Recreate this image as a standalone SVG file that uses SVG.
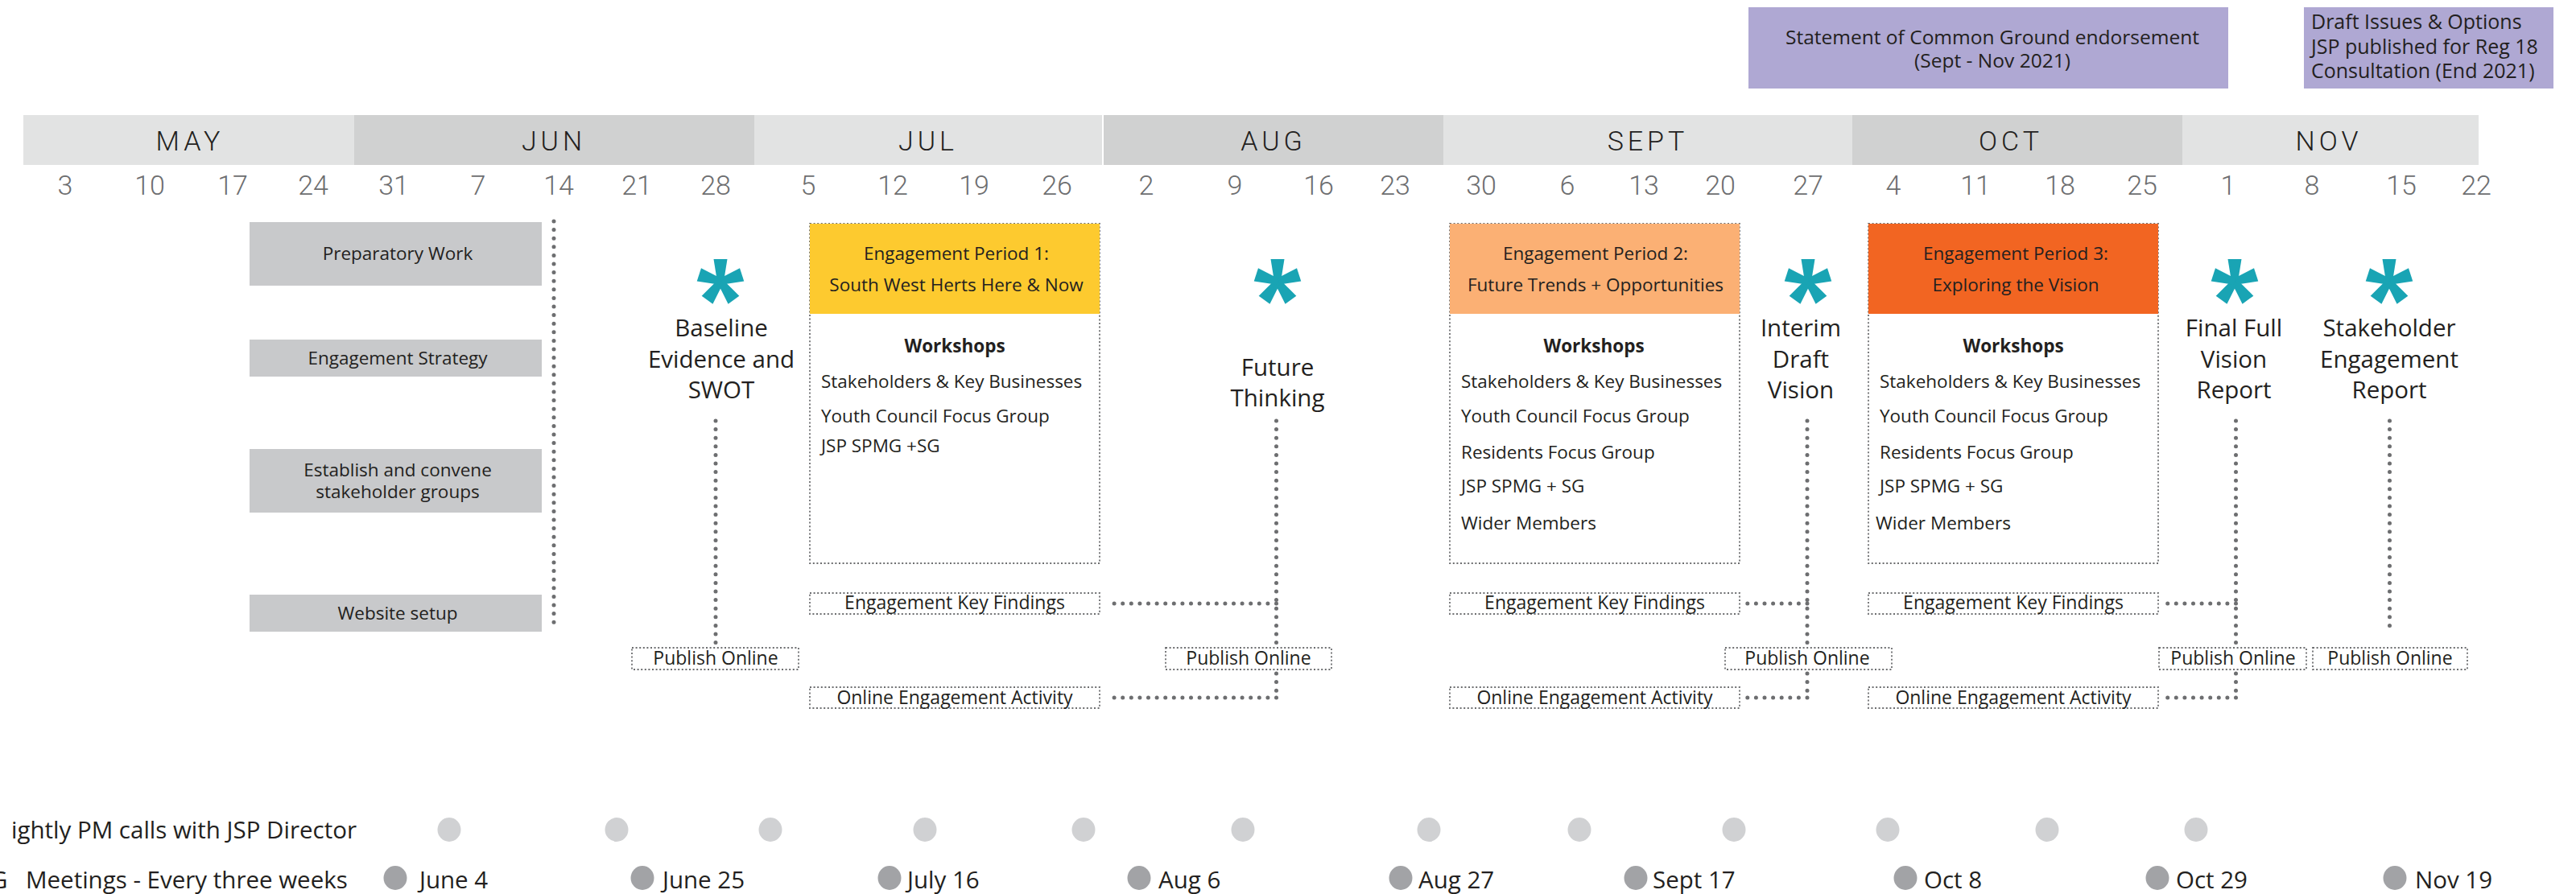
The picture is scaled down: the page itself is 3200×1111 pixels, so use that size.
<svg xmlns="http://www.w3.org/2000/svg" xmlns:xlink="http://www.w3.org/1999/xlink" width="3200" height="1111" viewBox="0 0 3200 1111">
  <style>
    .month { font-family: Roboto, "Open Sans", sans-serif; font-weight: 300; font-size: 34px; fill: #231f20; letter-spacing: 5px; text-anchor: middle; }
    .day { font-family: Roboto, "Open Sans", sans-serif; font-weight: 300; font-size: 34px; fill: #6d6e70; text-anchor: middle; }
    .txt { font-family: "Open Sans", "Noto Sans", sans-serif; font-size: 22.5px; fill: #231f20; }
    .sm { font-size: 23px; }
    .mid { text-anchor: middle; }
    .bold { font-weight: 700; }
    .big { font-family: "Open Sans", "Noto Sans", sans-serif; font-size: 29.5px; fill: #231f20; text-anchor: middle; }
    .leg { font-family: "Open Sans", "Noto Sans", sans-serif; font-size: 29.5px; fill: #231f20; }
    .note { font-size: 24.5px; }
    .grey { fill: #c8c9cb; }
    .dotbox { fill: none; stroke: #6d6e70; stroke-width: 1.8; stroke-dasharray: 2 2.6; }
    .conn { fill: none; stroke: #6d6e70; stroke-width: 5; stroke-linecap: round; stroke-dasharray: 0 10.6; }
    .ast { fill: #19a4b4; }
    .c1 { fill: #d0d1d3; }
    .c2 { fill: #a2a3a6; }
  </style>
  <defs>
    <g id="asterisk">
      <circle r="8"/>
      <polygon points="-4,0 -8.5,-28 8.5,-28 4,0"/>
      <polygon points="-4,0 -8.5,-28 8.5,-28 4,0" transform="rotate(72)"/>
      <polygon points="-4,0 -8.5,-28 8.5,-28 4,0" transform="rotate(144)"/>
      <polygon points="-4,0 -8.5,-28 8.5,-28 4,0" transform="rotate(216)"/>
      <polygon points="-4,0 -8.5,-28 8.5,-28 4,0" transform="rotate(288)"/>
    </g>
  </defs>
  <rect width="3200" height="1111" fill="#ffffff"/>

  <!-- top milestones -->
  <g id="scg-endorsement">
    <rect x="2172" y="9" width="596" height="101" fill="#afa8d3"/>
    <text class="txt mid note" x="2475" y="55">Statement of Common Ground endorsement</text>
    <text class="txt mid note" x="2475" y="84">(Sept - Nov 2021)</text>
  </g>
  <g id="draft-issues">
    <rect x="2862" y="9" width="310" height="101" fill="#afa8d3"/>
    <text class="txt" x="2871" y="36" style="font-size:25px">Draft Issues &amp; Options</text>
    <text class="txt" x="2871" y="67" style="font-size:25px">JSP published for Reg 18</text>
    <text class="txt" x="2871" y="97" style="font-size:25px">Consultation (End 2021)</text>
  </g>

  <!-- month bar -->
  <g id="months">
    <rect x="29" y="143" width="411" height="62" fill="#e2e3e3"/>
    <rect x="440" y="143" width="497" height="62" fill="#d0d1d1"/>
    <rect x="937" y="143" width="432" height="62" fill="#e2e3e3"/>
    <rect x="1371" y="143" width="422" height="62" fill="#d0d1d1"/>
    <rect x="1793" y="143" width="508" height="62" fill="#e2e3e3"/>
    <rect x="2301" y="143" width="410" height="62" fill="#d0d1d1"/>
    <rect x="2711" y="143" width="368" height="62" fill="#e2e3e3"/>
    <text class="month" x="236" y="187">MAY</text>
    <text class="month" x="688" y="187">JUN</text>
    <text class="month" x="1153" y="187">JUL</text>
    <text class="month" x="1582" y="187">AUG</text>
    <text class="month" x="2047" y="187">SEPT</text>
    <text class="month" x="2498" y="187">OCT</text>
    <text class="month" x="2893" y="187">NOV</text>
  </g>

  <!-- week commencing dates -->
  <g id="weeks">
    <text class="day" x="81" y="242">3</text>
    <text class="day" x="186" y="242">10</text>
    <text class="day" x="289" y="242">17</text>
    <text class="day" x="389" y="242">24</text>
    <text class="day" x="489" y="242">31</text>
    <text class="day" x="594" y="242">7</text>
    <text class="day" x="694" y="242">14</text>
    <text class="day" x="791" y="242">21</text>
    <text class="day" x="889" y="242">28</text>
    <text class="day" x="1004" y="242">5</text>
    <text class="day" x="1109" y="242">12</text>
    <text class="day" x="1210" y="242">19</text>
    <text class="day" x="1313" y="242">26</text>
    <text class="day" x="1424" y="242">2</text>
    <text class="day" x="1534" y="242">9</text>
    <text class="day" x="1638" y="242">16</text>
    <text class="day" x="1733" y="242">23</text>
    <text class="day" x="1840" y="242">30</text>
    <text class="day" x="1947" y="242">6</text>
    <text class="day" x="2042" y="242">13</text>
    <text class="day" x="2137" y="242">20</text>
    <text class="day" x="2246" y="242">27</text>
    <text class="day" x="2352" y="242">4</text>
    <text class="day" x="2454" y="242">11</text>
    <text class="day" x="2559" y="242">18</text>
    <text class="day" x="2661" y="242">25</text>
    <text class="day" x="2768" y="242">1</text>
    <text class="day" x="2872" y="242">8</text>
    <text class="day" x="2983" y="242">15</text>
    <text class="day" x="3076" y="242">22</text>
  </g>

  <!-- preparatory tasks -->
  <g id="preparatory-work">
    <rect class="grey" x="310" y="276" width="363" height="79"/>
    <text class="txt mid" x="494" y="323">Preparatory Work</text>
  </g>
  <g id="engagement-strategy">
    <rect class="grey" x="310" y="422" width="363" height="46"/>
    <text class="txt mid" x="494" y="453">Engagement Strategy</text>
  </g>
  <g id="stakeholder-groups">
    <rect class="grey" x="310" y="558" width="363" height="79"/>
    <text class="txt mid" x="494" y="592">Establish and convene</text>
    <text class="txt mid" x="494" y="619">stakeholder groups</text>
  </g>
  <g id="website-setup">
    <rect class="grey" x="310" y="739" width="363" height="46"/>
    <text class="txt mid" x="494" y="770">Website setup</text>
  </g>

  <!-- milestones -->
  <g id="baseline-swot">
    <use xlink:href="#asterisk" class="ast" x="895" y="350"/>
    <text class="big" x="896" y="418">Baseline</text>
    <text class="big" x="896" y="457">Evidence and</text>
    <text class="big" x="896" y="495">SWOT</text>
  </g>
  <g id="future-thinking">
    <use xlink:href="#asterisk" class="ast" x="1587" y="350"/>
    <text class="big" x="1587" y="467">Future</text>
    <text class="big" x="1587" y="505">Thinking</text>
  </g>
  <g id="interim-vision">
    <use xlink:href="#asterisk" class="ast" x="2246" y="350"/>
    <text class="big" x="2237" y="418">Interim</text>
    <text class="big" x="2237" y="457">Draft</text>
    <text class="big" x="2237" y="495">Vision</text>
  </g>
  <g id="final-vision">
    <use xlink:href="#asterisk" class="ast" x="2776" y="350"/>
    <text class="big" x="2775" y="418">Final Full</text>
    <text class="big" x="2775" y="457">Vision</text>
    <text class="big" x="2775" y="495">Report</text>
  </g>
  <g id="stakeholder-report">
    <use xlink:href="#asterisk" class="ast" x="2968" y="350"/>
    <text class="big" x="2968" y="418">Stakeholder</text>
    <text class="big" x="2968" y="457">Engagement</text>
    <text class="big" x="2968" y="495">Report</text>
  </g>

  <!-- engagement periods -->
  <g id="period-1">
    <rect class="dotbox" x="1006" y="278" width="360" height="422"/>
    <rect x="1006" y="278" width="360" height="112" fill="#fdca2f"/>
    <text class="txt mid" x="1188" y="323">Engagement Period 1:</text>
    <text class="txt mid" x="1188" y="362">South West Herts Here &amp; Now</text>
    <text class="txt mid bold" x="1186" y="438">Workshops</text>
    <text class="txt" x="1020" y="482">Stakeholders &amp; Key Businesses</text>
    <text class="txt" x="1020" y="525">Youth Council Focus Group</text>
    <text class="txt" x="1020" y="562">JSP SPMG +SG</text>
  </g>
  <g id="period-2">
    <rect class="dotbox" x="1801" y="278" width="360" height="422"/>
    <rect x="1801" y="278" width="360" height="112" fill="#fbb074"/>
    <text class="txt mid" x="1982" y="323">Engagement Period 2:</text>
    <text class="txt mid" x="1982" y="362">Future Trends + Opportunities</text>
    <text class="txt mid bold" x="1980" y="438">Workshops</text>
    <text class="txt" x="1815" y="482">Stakeholders &amp; Key Businesses</text>
    <text class="txt" x="1815" y="525">Youth Council Focus Group</text>
    <text class="txt" x="1815" y="570">Residents Focus Group</text>
    <text class="txt" x="1815" y="612">JSP SPMG + SG</text>
    <text class="txt" x="1815" y="658">Wider Members</text>
  </g>
  <g id="period-3">
    <rect class="dotbox" x="2321" y="278" width="360" height="422"/>
    <rect x="2321" y="278" width="360" height="112" fill="#f26522"/>
    <text class="txt mid" x="2504" y="323">Engagement Period 3:</text>
    <text class="txt mid" x="2504" y="362">Exploring the Vision</text>
    <text class="txt mid bold" x="2501" y="438">Workshops</text>
    <text class="txt" x="2335" y="482">Stakeholders &amp; Key Businesses</text>
    <text class="txt" x="2335" y="525">Youth Council Focus Group</text>
    <text class="txt" x="2335" y="570">Residents Focus Group</text>
    <text class="txt" x="2335" y="612">JSP SPMG + SG</text>
    <text class="txt" x="2330" y="658">Wider Members</text>
  </g>

  <!-- outputs -->
  <g id="findings-1">
    <rect class="dotbox" x="1006" y="737" width="360" height="26"/>
    <text class="txt sm mid" x="1186" y="757">Engagement Key Findings</text>
  </g>
  <g id="online-1">
    <rect class="dotbox" x="1006" y="854" width="360" height="26"/>
    <text class="txt sm mid" x="1186" y="875">Online Engagement Activity</text>
  </g>
  <g id="findings-2">
    <rect class="dotbox" x="1801" y="737" width="360" height="26"/>
    <text class="txt sm mid" x="1981" y="757">Engagement Key Findings</text>
  </g>
  <g id="online-2">
    <rect class="dotbox" x="1801" y="854" width="360" height="26"/>
    <text class="txt sm mid" x="1981" y="875">Online Engagement Activity</text>
  </g>
  <g id="findings-3">
    <rect class="dotbox" x="2321" y="737" width="360" height="26"/>
    <text class="txt sm mid" x="2501" y="757">Engagement Key Findings</text>
  </g>
  <g id="online-3">
    <rect class="dotbox" x="2321" y="854" width="360" height="26"/>
    <text class="txt sm mid" x="2501" y="875">Online Engagement Activity</text>
  </g>
  <g id="publish-1">
    <rect class="dotbox" x="785" y="805" width="207" height="27"/>
    <text class="txt sm mid" x="889" y="826">Publish Online</text>
  </g>
  <g id="publish-2">
    <rect class="dotbox" x="1448" y="805" width="206" height="27"/>
    <text class="txt sm mid" x="1551" y="826">Publish Online</text>
  </g>
  <g id="publish-3">
    <rect class="dotbox" x="2143" y="805" width="207" height="27"/>
    <text class="txt sm mid" x="2245" y="826">Publish Online</text>
  </g>
  <g id="publish-4">
    <rect class="dotbox" x="2682" y="805" width="183" height="27"/>
    <text class="txt sm mid" x="2774" y="826">Publish Online</text>
  </g>
  <g id="publish-5">
    <rect class="dotbox" x="2873" y="805" width="192" height="27"/>
    <text class="txt sm mid" x="2969" y="826">Publish Online</text>
  </g>

  <!-- dotted connectors -->
  <g id="connectors">
    <line class="conn" x1="688" y1="275" x2="688" y2="777"/>
    <line class="conn" x1="889" y1="523" x2="889" y2="803"/>
    <line class="conn" x1="1585.5" y1="523" x2="1585.5" y2="803"/>
    <line class="conn" x1="1585.5" y1="837" x2="1585.5" y2="867"/>
    <line class="conn" x1="2245" y1="523" x2="2245" y2="803"/>
    <line class="conn" x1="2245" y1="837" x2="2245" y2="867"/>
    <line class="conn" x1="2777.5" y1="523" x2="2777.5" y2="803"/>
    <line class="conn" x1="2777.5" y1="837" x2="2777.5" y2="867"/>
    <line class="conn" x1="2968.5" y1="523" x2="2968.5" y2="786"/>
    <line class="conn" x1="1585.5" y1="750" x2="1374" y2="750"/>
    <line class="conn" x1="1585.5" y1="867" x2="1374" y2="867"/>
    <line class="conn" x1="2245" y1="750" x2="2169" y2="750"/>
    <line class="conn" x1="2245" y1="867" x2="2169" y2="867"/>
    <line class="conn" x1="2777.5" y1="750" x2="2689" y2="750"/>
    <line class="conn" x1="2777.5" y1="867" x2="2689" y2="867"/>
  </g>

  <!-- recurring meetings -->
  <g id="pm-calls">
    <text class="leg" x="443" y="1042" text-anchor="end">ightly PM calls with JSP Director</text>
    <ellipse class="c1" cx="558" cy="1031" rx="14.5" ry="15"/>
    <ellipse class="c1" cx="766" cy="1031" rx="14.5" ry="15"/>
    <ellipse class="c1" cx="957" cy="1031" rx="14.5" ry="15"/>
    <ellipse class="c1" cx="1149" cy="1031" rx="14.5" ry="15"/>
    <ellipse class="c1" cx="1346" cy="1031" rx="14.5" ry="15"/>
    <ellipse class="c1" cx="1544" cy="1031" rx="14.5" ry="15"/>
    <ellipse class="c1" cx="1775" cy="1031" rx="14.5" ry="15"/>
    <ellipse class="c1" cx="1962" cy="1031" rx="14.5" ry="15"/>
    <ellipse class="c1" cx="2154" cy="1031" rx="14.5" ry="15"/>
    <ellipse class="c1" cx="2345" cy="1031" rx="14.5" ry="15"/>
    <ellipse class="c1" cx="2543" cy="1031" rx="14.5" ry="15"/>
    <ellipse class="c1" cx="2728" cy="1031" rx="14.5" ry="15"/>
  </g>
  <g id="sg-meetings">
    <text class="leg" y="1104"><tspan x="-12">G</tspan><tspan x="32">Meetings - Every three weeks</tspan></text>
    <ellipse class="c2" cx="491" cy="1091" rx="14.5" ry="15"/>
    <text class="leg" x="521" y="1104">June 4</text>
    <ellipse class="c2" cx="798" cy="1091" rx="14.5" ry="15"/>
    <text class="leg" x="823" y="1104">June 25</text>
    <ellipse class="c2" cx="1105" cy="1091" rx="14.5" ry="15"/>
    <text class="leg" x="1127" y="1104">July 16</text>
    <ellipse class="c2" cx="1415" cy="1091" rx="14.5" ry="15"/>
    <text class="leg" x="1439" y="1104">Aug 6</text>
    <ellipse class="c2" cx="1740" cy="1091" rx="14.5" ry="15"/>
    <text class="leg" x="1762" y="1104">Aug 27</text>
    <ellipse class="c2" cx="2032" cy="1091" rx="14.5" ry="15"/>
    <text class="leg" x="2053" y="1104">Sept 17</text>
    <ellipse class="c2" cx="2367" cy="1091" rx="14.5" ry="15"/>
    <text class="leg" x="2390" y="1104">Oct 8</text>
    <ellipse class="c2" cx="2680" cy="1091" rx="14.5" ry="15"/>
    <text class="leg" x="2703" y="1104">Oct 29</text>
    <ellipse class="c2" cx="2975" cy="1091" rx="14.5" ry="15"/>
    <text class="leg" x="3000" y="1104">Nov 19</text>
  </g>
</svg>
